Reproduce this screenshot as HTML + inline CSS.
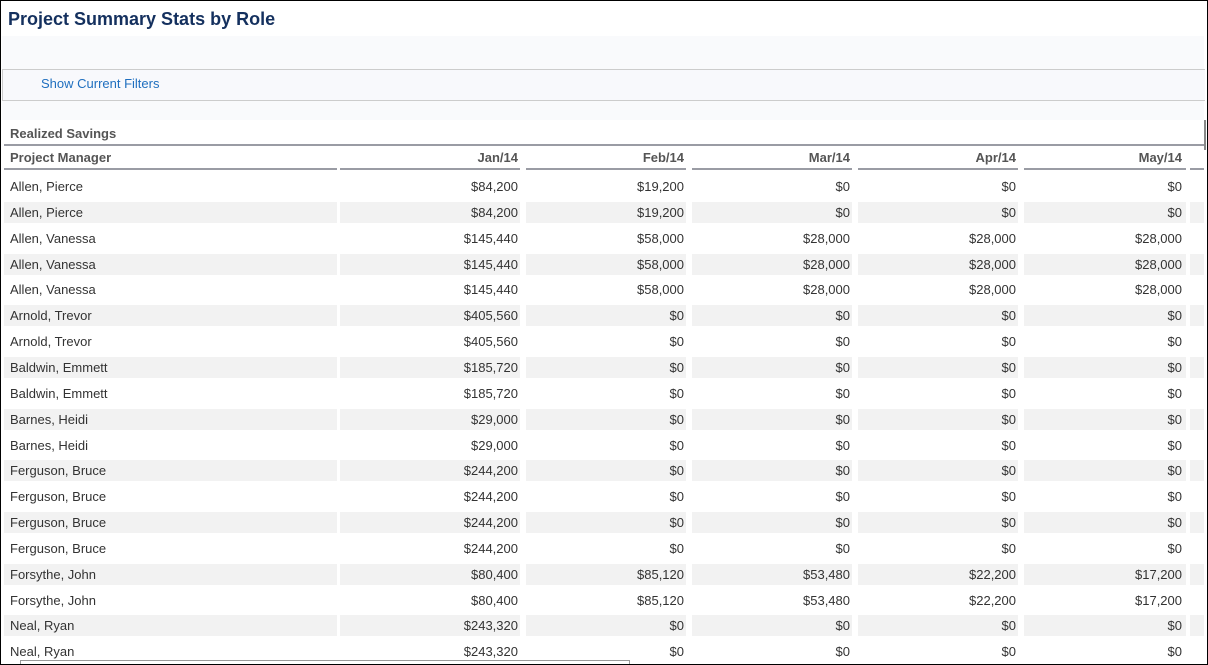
<!DOCTYPE html>
<html><head><meta charset="utf-8"><style>
body{margin:0;width:1208px;height:665px;overflow:hidden;font-family:"Liberation Sans",Arial,sans-serif;background:#fff;position:relative}
.frame{position:absolute;left:0;top:0;width:1206px;height:663px;border:1px solid #000}
.title{position:absolute;left:8px;top:9px;font-size:18px;font-weight:bold;color:#14305e}
.band1{position:absolute;left:2px;top:36px;width:1202px;height:33px;background:#f9fafc}
.filter{position:absolute;left:2px;top:69px;width:1202px;height:30px;border-top:1px solid #ccc;border-bottom:1px solid #ccc;border-left:1px solid #ccc;background:#f8f9fc}
.filter a{position:absolute;left:38px;top:6px;font-size:13px;color:#1f6fbf;text-decoration:none}
.band2{position:absolute;left:2px;top:101px;width:1202px;height:19px;background:#f9fafc}
.sec{position:absolute;left:10px;top:126px;font-size:13px;font-weight:bold;color:#555}
.secline{position:absolute;left:4px;top:144px;width:1200px;height:2px;background:#9a9ca4}
.cell{position:absolute;font-size:13px;color:#333;white-space:nowrap;box-sizing:border-box;padding:0 2px}
.hdr{font-weight:bold;color:#555;border-bottom:2px solid #9a9ca4;height:20px;line-height:16px}
.vscroll{position:absolute;left:1204px;top:120px;width:2px;height:30px;background:#888}
.hscroll{position:absolute;left:20px;top:660px;width:608px;height:3px;border:1px solid #999;border-bottom:none;background:#fff}
</style></head><body>
<div class="frame"></div>
<div class="title">Project Summary Stats by Role</div>
<div class="band1"></div>
<div class="filter"><a>Show Current Filters</a></div>
<div class="band2"></div>
<div class="sec">Realized Savings</div>
<div class="secline"></div>
<div class="vscroll"></div>
<div class="hscroll"></div>
<div id="tbl"></div>
<script>
const headers=["Project Manager","Jan/14","Feb/14","Mar/14","Apr/14","May/14"];
const names=["Allen, Pierce","Allen, Pierce","Allen, Vanessa","Allen, Vanessa","Allen, Vanessa","Arnold, Trevor","Arnold, Trevor","Baldwin, Emmett","Baldwin, Emmett","Barnes, Heidi","Barnes, Heidi","Ferguson, Bruce","Ferguson, Bruce","Ferguson, Bruce","Ferguson, Bruce","Forsythe, John","Forsythe, John","Neal, Ryan","Neal, Ryan"];
const jan=["$84,200","$84,200","$145,440","$145,440","$145,440","$405,560","$405,560","$185,720","$185,720","$29,000","$29,000","$244,200","$244,200","$244,200","$244,200","$80,400","$80,400","$243,320","$243,320"];
const feb=["$19,200","$19,200","$58,000","$58,000","$58,000","$0","$0","$0","$0","$0","$0","$0","$0","$0","$0","$85,120","$85,120","$0","$0"];
const mar=["$0","$0","$28,000","$28,000","$28,000","$0","$0","$0","$0","$0","$0","$0","$0","$0","$0","$53,480","$53,480","$0","$0"];
const apr=["$0","$0","$28,000","$28,000","$28,000","$0","$0","$0","$0","$0","$0","$0","$0","$0","$0","$22,200","$22,200","$0","$0"];
const may=["$0","$0","$28,000","$28,000","$28,000","$0","$0","$0","$0","$0","$0","$0","$0","$0","$0","$17,200","$17,200","$0","$0"];
const cols=[[4,333],[340,180],[526,160],[692,160],[858,160],[1024,160],[1190,14]];
const tbl=document.getElementById('tbl');
function mk(x,y,w,h,txt,cls,align){const d=document.createElement('div');d.className='cell '+cls;d.style.left=x+'px';d.style.top=y+'px';d.style.width=w+'px';d.style.height=h+'px';d.style.lineHeight=h+'px';d.style.textAlign=align;d.textContent=txt;tbl.appendChild(d);return d;}
cols.forEach((c,i)=>{const w=(i==5)?162:c[1];const d=mk(c[0],150,w,20,headers[i]||'','hdr',i==0?'left':'right');d.style.lineHeight='16px';if(i==0)d.style.paddingLeft='6px';if(i==5)d.style.paddingRight='4px';
 
 });
const data=[names,jan,feb,mar,apr,may];
const rowH=25.85, top0=174;
names.forEach((n,r)=>{const y=Math.round(top0+r*rowH);const g=r%2==1;
 cols.forEach((c,i)=>{const w=(i==5)?162:c[1];const d=mk(c[0],y+(g?2:0),w,g?21:25,i<6?data[i][r]:'','',i==0?'left':'right');
 if(g){d.style.background='#f2f2f2';d.style.lineHeight='21px';}
 if(i==0)d.style.paddingLeft='6px';
 if(i==5)d.style.paddingRight='4px';
 
 });});
</script>
</body></html>
